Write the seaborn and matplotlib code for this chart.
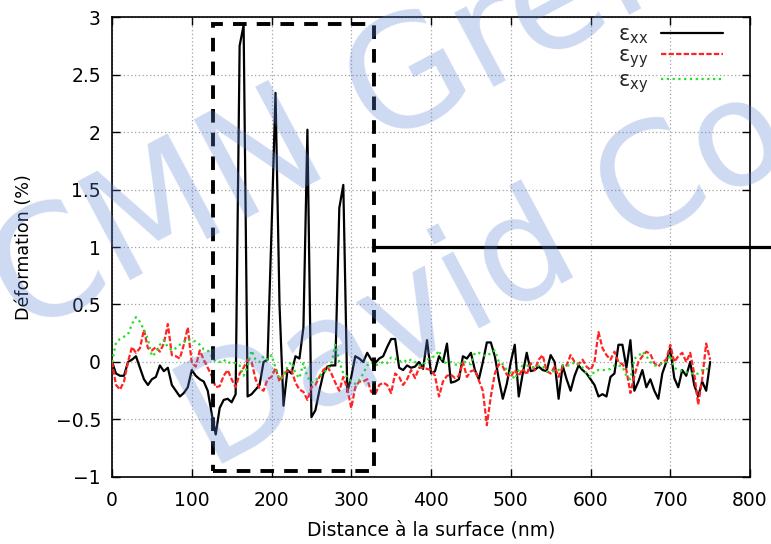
import numpy as np
import pandas as pd
import matplotlib
matplotlib.use("Agg")
import matplotlib.pyplot as plt
from matplotlib.patches import Rectangle
import seaborn as sns

# positions le long du profil (nm), pas de 5 nm
distance = np.arange(0, 755, 5)

# deformation exx (%)
exx = [
    0.00, -0.10, -0.12, -0.12, 0.00, 0.02, 0.05, -0.05, -0.15, -0.20,
    -0.15, -0.13, -0.03, -0.08, -0.05, -0.20, -0.25, -0.30, -0.27, -0.22,
    -0.07, -0.12, -0.15, -0.17, -0.25, -0.45, -0.63, -0.40, -0.33, -0.32,
    -0.35, -0.28, 2.75, 2.93, -0.30, -0.28, -0.24, -0.20, 0.00, 0.02,
    1.15, 2.34, 0.50, -0.38, -0.07, -0.10, 0.05, 0.03, 0.30, 2.02,
    -0.48, -0.42, -0.25, -0.10, -0.04, -0.03, -0.03, 1.34, 1.54, -0.26,
    -0.13, 0.05, 0.03, 0.00, 0.08, 0.02, -0.01, 0.03, 0.05, 0.13,
    0.20, 0.20, -0.05, -0.07, -0.03, -0.05, -0.04, 0.00, -0.06, 0.19,
    -0.10, -0.08, 0.05, 0.00, 0.16, -0.18, -0.17, -0.15, 0.05, 0.03,
    0.08, -0.07, -0.15, 0.00, 0.17, 0.17, 0.05, -0.15, -0.32, -0.19,
    0.00, 0.15, -0.30, -0.10, 0.08, -0.08, -0.07, -0.04, -0.07, -0.08,
    0.06, 0.00, -0.32, -0.03, -0.15, -0.25, -0.12, -0.03, -0.07, -0.10,
    -0.15, -0.20, -0.30, -0.28, -0.30, -0.13, -0.10, 0.15, 0.15, -0.05,
    0.19, -0.25, -0.17, -0.07, -0.22, -0.15, -0.25, -0.32, -0.10, 0.00,
    0.12, -0.14, -0.22, -0.07, -0.12, 0.00, -0.20, -0.30, -0.17, -0.25,
    0.00,
]

# deformation eyy (%)
eyy = [
    0.00, -0.20, -0.24, -0.17, 0.00, 0.13, 0.08, 0.12, 0.28, 0.12,
    0.10, 0.13, 0.09, 0.16, 0.33, 0.06, 0.05, 0.03, 0.15, 0.30,
    -0.01, -0.04, 0.10, 0.02, -0.05, -0.12, -0.22, -0.21, -0.12, -0.07,
    -0.15, -0.22, -0.10, -0.05, 0.02, 0.00, -0.15, -0.23, -0.25, -0.15,
    -0.13, -0.05, -0.17, -0.10, -0.08, -0.07, -0.18, -0.24, -0.26, -0.33,
    -0.22, -0.20, -0.13, -0.07, -0.04, -0.10, -0.18, -0.25, -0.13, -0.23,
    -0.40, -0.22, -0.17, -0.17, -0.15, -0.26, -0.28, -0.20, -0.18, -0.20,
    -0.27, -0.10, -0.13, -0.20, -0.15, -0.07, -0.14, -0.05, -0.05, -0.06,
    -0.07, -0.12, -0.30, -0.17, -0.12, -0.11, -0.14, -0.12, 0.00, -0.13,
    -0.08, -0.07, -0.16, -0.25, -0.55, -0.30, -0.10, -0.02, -0.04, -0.11,
    -0.13, -0.07, -0.12, -0.06, -0.11, -0.01, -0.07, 0.02, 0.06, -0.08,
    -0.10, -0.04, -0.13, -0.04, -0.03, 0.06, 0.00, -0.02, 0.02, -0.04,
    -0.07, 0.00, 0.26, 0.12, 0.06, 0.02, 0.09, 0.00, -0.02, -0.07,
    -0.27, -0.12, 0.00, 0.05, 0.09, 0.07, -0.01, -0.04, 0.00, 0.02,
    0.15, 0.00, 0.05, 0.08, 0.00, 0.08, -0.10, -0.37, -0.15, 0.16,
    0.02,
]

# deformation exy (%)
exy = [
    0.00, 0.17, 0.20, 0.22, 0.24, 0.33, 0.39, 0.35, 0.28, 0.20,
    0.05, 0.08, 0.15, 0.19, 0.13, 0.10, 0.12, 0.15, 0.17, 0.20,
    0.18, 0.18, 0.15, 0.11, 0.10, 0.05, 0.00, 0.00, 0.02, -0.01,
    0.00, -0.01, -0.03, -0.12, -0.04, 0.10, 0.02, 0.00, 0.05, 0.02,
    0.06, -0.05, -0.15, -0.13, -0.04, 0.00, -0.10, -0.14, -0.01, -0.13,
    -0.18, -0.16, -0.13, -0.09, -0.07, -0.02, 0.15, 0.00, -0.10, -0.13,
    -0.17, -0.19, -0.16, -0.10, -0.03, 0.00, -0.03, -0.02, 0.00, -0.01,
    0.04, 0.03, 0.00, 0.02, 0.00, 0.02, 0.00, -0.03, -0.03, 0.02,
    0.04, 0.05, 0.10, 0.00, -0.01, 0.00, -0.02, -0.03, 0.01, -0.01,
    -0.02, 0.08, 0.08, 0.06, 0.05, 0.08, 0.10, 0.00, -0.02, -0.07,
    -0.10, -0.15, -0.07, -0.03, -0.03, -0.04, -0.05, -0.03, -0.04, -0.08,
    -0.08, -0.08, -0.07, -0.03, -0.03, -0.03, 0.00, -0.02, -0.05, -0.10,
    -0.13, -0.08, -0.07, -0.07, -0.07, -0.06, -0.03, -0.03, -0.04, -0.12,
    -0.15, 0.03, 0.05, 0.09, 0.05, 0.00, -0.03, -0.03, -0.01, 0.00,
    0.06, -0.05, -0.07, -0.08, -0.09, -0.09, -0.11, -0.10, -0.07, -0.07,
    -0.03,
]

series_keys = ["exx", "eyy", "exy"]
series_labels = [r"ε$_\mathregular{xx}$", r"ε$_\mathregular{yy}$", r"ε$_\mathregular{xy}$"]
series_colors = ["#000000", "#ff2424", "#22e022"]

x_ticks = [0, 100, 200, 300, 400, 500, 600, 700, 800]
y_ticks = [-1, -0.5, 0, 0.5, 1, 1.5, 2, 2.5, 3]
y_tick_labels = ["\u22121", "\u22120.5", "0", "0.5", "1", "1.5", "2", "2.5", "3"]

# zone encadree et palier a 1 %
box_x = (127, 328)
box_y = (-0.95, 2.94)
plateau_y = 1.0
plateau_x = (328, 830)

watermark_lines = ["CMN Grenoble", "David Cooper"]

sns.set_theme(style="ticks")
plt.rcParams["font.family"] = ["DejaVu Sans"]

fig = plt.figure(figsize=(7.71, 5.44), dpi=100)
ax = fig.add_axes([0.1453, 0.1232, 0.8275, 0.8455])

df = pd.DataFrame({"distance": distance, "exx": exx, "eyy": eyy, "exy": exy})

line_styles = ["-", (0, (2.4, 1.0)), (0, (1.0, 1.6))]
for key, lab, col, ls in zip(series_keys, series_labels, series_colors, line_styles):
    sns.lineplot(data=df, x="distance", y=key, ax=ax, color=col, linewidth=1.6,
                 linestyle=ls, label=lab, estimator=None, zorder=3)

ax.add_patch(Rectangle((box_x[0], box_y[0]), box_x[1] - box_x[0], box_y[1] - box_y[0],
                       fill=False, edgecolor="black", linewidth=2.8,
                       linestyle=(0, (3.5, 2.6)), zorder=4))
ax.plot(plateau_x, [plateau_y, plateau_y], color="black", linewidth=2.3,
        clip_on=False, solid_capstyle="butt", zorder=4)

ax.set_xlim(0, 800)
ax.set_ylim(-1, 3)
ax.set_xticks(x_ticks)
ax.set_yticks(y_ticks)
ax.set_yticklabels(y_tick_labels)
ax.set_axisbelow(True)
ax.grid(True, color="#a0a0a0", linestyle=(0, (1, 2)), linewidth=0.9)
for sp in ax.spines.values():
    sp.set_color("black")
    sp.set_linewidth(1.2)
ax.tick_params(direction="in", length=5.5, width=1, top=True, right=True,
               labelsize=13.5, colors="black")
ax.tick_params(axis="x", pad=10)
ax.tick_params(axis="y", pad=8)

ax.set_xlabel("Distance à la surface (nm)", fontsize=13.5, labelpad=8, color="black")
ax.set_ylabel("Déformation (%)", fontsize=12.6, color="black")
ax.yaxis.set_label_coords(-0.124, 0.5)

ax.legend(loc="upper right", bbox_to_anchor=(0.958, 0.985), frameon=False,
          markerfirst=False, fontsize=15, handlelength=3.0, handletextpad=0.6,
          labelspacing=0.0, borderpad=0, borderaxespad=0)

# filigrane
fig.text(0.03, 0.38, watermark_lines[0], fontsize=110, color="#5b82d6", alpha=0.3,
         rotation=28, rotation_mode="anchor", ha="left", va="baseline", zorder=10)
fig.text(0.272, 0.136, watermark_lines[1], fontsize=106, color="#5b82d6", alpha=0.3,
         rotation=28, rotation_mode="anchor", ha="left", va="baseline", zorder=10)

fig.savefig("out.png", dpi=100)
